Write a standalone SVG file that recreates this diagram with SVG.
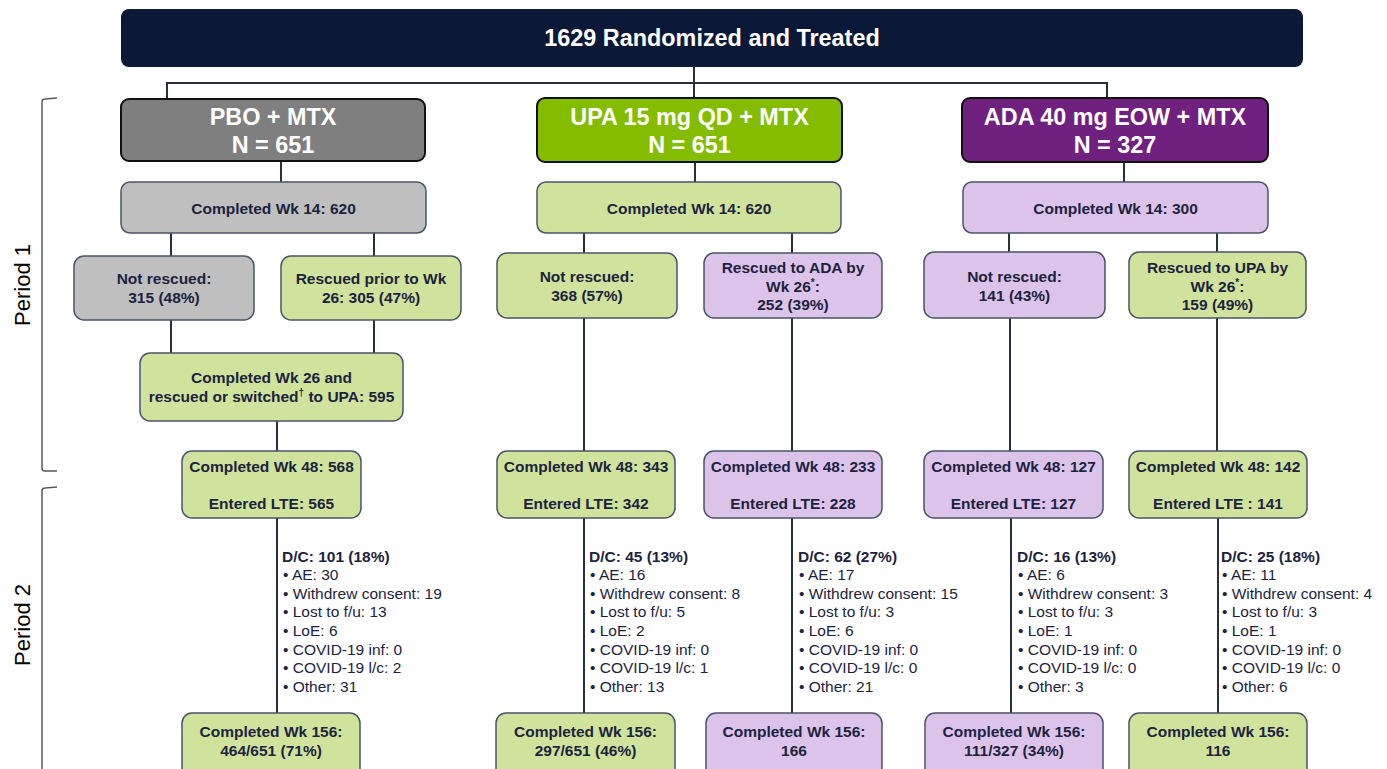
<svg xmlns="http://www.w3.org/2000/svg" width="1387" height="769" viewBox="0 0 1387 769">
<style>
text{font-family:"Liberation Sans",Arial,sans-serif;}
.hd{fill:#fff;font-weight:bold;font-size:23.4px;text-anchor:middle;}
.arm{fill:#fff;font-weight:bold;font-size:23.4px;text-anchor:middle;}
.t{fill:#1C2340;font-weight:bold;font-size:15.5px;text-anchor:middle;}
.dc{fill:#1C2340;font-size:15.5px;}
.dcb{fill:#1C2340;font-size:15.5px;font-weight:bold;}
.per{fill:#000;font-size:22px;text-anchor:middle;}
.gr{fill:#D0E39C;stroke:#4A5468;stroke-width:1.5;}
.lv{fill:#DCC3EA;stroke:#4A5468;stroke-width:1.5;}
.gy{fill:#BFBFBF;stroke:#4A5468;stroke-width:1.5;}
.ab{stroke:#111;stroke-width:2;}
.sup{font-size:10px;}
#connectors line{stroke:#2A2F3E;stroke-width:2;fill:none;}
.br{stroke:#595959;stroke-width:1.5;fill:none;}
</style>
<rect width="1387" height="769" fill="#fff"/>

<g id="brackets">
<path class="br" d="M57,98 L45,99 Q42,99 42,102 V468 Q42,471 45,471 L57,471"/>
<text class="per" transform="translate(30,285) rotate(-90)">Period 1</text>
<path class="br" d="M57,487 L45,488 Q42,488 42,491 V775"/>
<text class="per" transform="translate(30,625) rotate(-90)">Period 2</text>
</g>

<g id="connectors">
<line x1="694" y1="67" x2="694" y2="98"/>
<line x1="166" y1="83" x2="1108" y2="83"/>
<line x1="167" y1="83" x2="167" y2="99"/>
<line x1="1107" y1="83" x2="1107" y2="98"/>
<line x1="281" y1="161" x2="281" y2="182"/>
<line x1="695" y1="162" x2="695" y2="182"/>
<line x1="1124" y1="162" x2="1124" y2="182"/>
<line x1="171" y1="233" x2="171" y2="256"/>
<line x1="374" y1="233" x2="374" y2="256"/>
<line x1="584" y1="233" x2="584" y2="253"/>
<line x1="792" y1="233" x2="792" y2="253"/>
<line x1="1009" y1="233" x2="1009" y2="252"/>
<line x1="1217" y1="233" x2="1217" y2="252"/>
<line x1="171" y1="320" x2="171" y2="353"/>
<line x1="374" y1="320" x2="374" y2="353"/>
<line x1="277" y1="421" x2="277" y2="451"/>
<line x1="584" y1="318" x2="584" y2="451"/>
<line x1="792" y1="318" x2="792" y2="451"/>
<line x1="1010" y1="318" x2="1010" y2="451"/>
<line x1="1217" y1="318" x2="1217" y2="451"/>
<line x1="277" y1="518" x2="277" y2="713"/>
<line x1="584" y1="518" x2="584" y2="713"/>
<line x1="792" y1="518" x2="792" y2="713"/>
<line x1="1011" y1="518" x2="1011" y2="713"/>
<line x1="1218" y1="518" x2="1218" y2="713"/>
</g>

<g id="header">
<rect x="121" y="9" width="1182" height="58" rx="8" fill="#0B1838"/>
<text class="hd" x="712" y="46">1629 Randomized and Treated</text>
</g>

<g id="arm-pbo">
<rect class="ab" x="121" y="99" width="304" height="62" rx="8" fill="#7F7F7F"/>
<text class="arm" x="273" y="125">PBO + MTX</text>
<text class="arm" x="273" y="153">N = 651</text>
</g>
<g id="arm-upa">
<rect class="ab" x="537" y="98" width="305" height="64" rx="8" fill="#84BD00"/>
<text class="arm" x="689.5" y="124.5">UPA 15 mg QD + MTX</text>
<text class="arm" x="689.5" y="152.5">N = 651</text>
</g>
<g id="arm-ada">
<rect class="ab" x="962" y="98" width="306" height="64" rx="8" fill="#70207E"/>
<text class="arm" x="1115" y="124.5">ADA 40 mg EOW + MTX</text>
<text class="arm" x="1115" y="152.5">N = 327</text>
</g>

<g id="pbo-wk14">
<rect class="gy" x="121" y="182" width="305" height="51" rx="9"/>
<text class="t" x="273.5" y="213.5">Completed Wk 14: 620</text>
</g>
<g id="upa-wk14">
<rect class="gr" x="537" y="182" width="304" height="51" rx="9"/>
<text class="t" x="689" y="213.5">Completed Wk 14: 620</text>
</g>
<g id="ada-wk14">
<rect class="lv" x="963" y="182" width="305" height="51" rx="9"/>
<text class="t" x="1115.5" y="213.5">Completed Wk 14: 300</text>
</g>

<g id="pbo-notrescued">
<rect class="gy" x="74" y="256" width="180" height="64" rx="10"/>
<text class="t" x="164" y="284">Not rescued:</text>
<text class="t" x="164" y="303">315 (48%)</text>
</g>
<g id="pbo-rescued">
<rect class="gr" x="281" y="256" width="180" height="64" rx="10"/>
<text class="t" x="371" y="284">Rescued prior to Wk</text>
<text class="t" x="371" y="303">26: 305 (47%)</text>
</g>
<g id="upa-notrescued">
<rect class="gr" x="497" y="253" width="180" height="65" rx="10"/>
<text class="t" x="587" y="282">Not rescued:</text>
<text class="t" x="587" y="301">368 (57%)</text>
</g>
<g id="upa-rescued">
<rect class="lv" x="704" y="253" width="178" height="65" rx="10"/>
<text class="t" x="793" y="273">Rescued to ADA by</text>
<text class="t" x="793" y="292">Wk 26<tspan class="sup" dy="-6">*</tspan><tspan dy="6">:</tspan></text>
<text class="t" x="793" y="310">252 (39%)</text>
</g>
<g id="ada-notrescued">
<rect class="lv" x="924" y="252" width="181" height="66" rx="10"/>
<text class="t" x="1014.5" y="282">Not rescued:</text>
<text class="t" x="1014.5" y="301">141 (43%)</text>
</g>
<g id="ada-rescued">
<rect class="gr" x="1129" y="252" width="177" height="66" rx="10"/>
<text class="t" x="1217.5" y="273">Rescued to UPA by</text>
<text class="t" x="1217.5" y="292">Wk 26<tspan class="sup" dy="-6">*</tspan><tspan dy="6">:</tspan></text>
<text class="t" x="1217.5" y="310">159 (49%)</text>
</g>

<g id="pbo-wk26">
<rect class="gr" x="140" y="353" width="263" height="68" rx="10"/>
<text class="t" x="271.5" y="383">Completed Wk 26 and</text>
<text class="t" x="271.5" y="402">rescued or switched<tspan class="sup" dy="-6">†</tspan><tspan dy="6"> to UPA: 595</tspan></text>
</g>

<g id="pbo-wk48">
<rect class="gr" x="182" y="451" width="179" height="67" rx="10"/>
<text class="t" x="271.5" y="472">Completed Wk 48: 568</text>
<text class="t" x="271.5" y="509">Entered LTE: 565</text>
</g>
<g id="upa-wk48">
<rect class="gr" x="497" y="451" width="178" height="67" rx="10"/>
<text class="t" x="586" y="472">Completed Wk 48: 343</text>
<text class="t" x="586" y="509">Entered LTE: 342</text>
</g>
<g id="upa-ada-wk48">
<rect class="lv" x="704" y="451" width="178" height="67" rx="10"/>
<text class="t" x="793" y="472">Completed Wk 48: 233</text>
<text class="t" x="793" y="509">Entered LTE: 228</text>
</g>
<g id="ada-wk48">
<rect class="lv" x="924" y="451" width="179" height="67" rx="10"/>
<text class="t" x="1013.5" y="472">Completed Wk 48: 127</text>
<text class="t" x="1013.5" y="509">Entered LTE: 127</text>
</g>
<g id="ada-upa-wk48">
<rect class="gr" x="1129" y="451" width="178" height="67" rx="10"/>
<text class="t" x="1218" y="472">Completed Wk 48: 142</text>
<text class="t" x="1218" y="509">Entered LTE : 141</text>
</g>

<g id="pbo-dc">
<text class="dcb" x="282" y="562">D/C: 101 (18%)</text>
<text class="dc" x="283" y="580">• AE: 30</text>
<text class="dc" x="283" y="598.5">• Withdrew consent: 19</text>
<text class="dc" x="283" y="617">• Lost to f/u: 13</text>
<text class="dc" x="283" y="636">• LoE: 6</text>
<text class="dc" x="283" y="654.5">• COVID-19 inf: 0</text>
<text class="dc" x="283" y="673">• COVID-19 l/c: 2</text>
<text class="dc" x="283" y="692">• Other: 31</text>
</g>
<g id="upa-dc">
<text class="dcb" x="589" y="562">D/C: 45 (13%)</text>
<text class="dc" x="590" y="580">• AE: 16</text>
<text class="dc" x="590" y="598.5">• Withdrew consent: 8</text>
<text class="dc" x="590" y="617">• Lost to f/u: 5</text>
<text class="dc" x="590" y="636">• LoE: 2</text>
<text class="dc" x="590" y="654.5">• COVID-19 inf: 0</text>
<text class="dc" x="590" y="673">• COVID-19 l/c: 1</text>
<text class="dc" x="590" y="692">• Other: 13</text>
</g>
<g id="upa-ada-dc">
<text class="dcb" x="798" y="562">D/C: 62 (27%)</text>
<text class="dc" x="799" y="580">• AE: 17</text>
<text class="dc" x="799" y="598.5">• Withdrew consent: 15</text>
<text class="dc" x="799" y="617">• Lost to f/u: 3</text>
<text class="dc" x="799" y="636">• LoE: 6</text>
<text class="dc" x="799" y="654.5">• COVID-19 inf: 0</text>
<text class="dc" x="799" y="673">• COVID-19 l/c: 0</text>
<text class="dc" x="799" y="692">• Other: 21</text>
</g>
<g id="ada-dc">
<text class="dcb" x="1017" y="562">D/C: 16 (13%)</text>
<text class="dc" x="1018" y="580">• AE: 6</text>
<text class="dc" x="1018" y="598.5">• Withdrew consent: 3</text>
<text class="dc" x="1018" y="617">• Lost to f/u: 3</text>
<text class="dc" x="1018" y="636">• LoE: 1</text>
<text class="dc" x="1018" y="654.5">• COVID-19 inf: 0</text>
<text class="dc" x="1018" y="673">• COVID-19 l/c: 0</text>
<text class="dc" x="1018" y="692">• Other: 3</text>
</g>
<g id="ada-upa-dc">
<text class="dcb" x="1221" y="562">D/C: 25 (18%)</text>
<text class="dc" x="1222" y="580">• AE: 11</text>
<text class="dc" x="1222" y="598.5">• Withdrew consent: 4</text>
<text class="dc" x="1222" y="617">• Lost to f/u: 3</text>
<text class="dc" x="1222" y="636">• LoE: 1</text>
<text class="dc" x="1222" y="654.5">• COVID-19 inf: 0</text>
<text class="dc" x="1222" y="673">• COVID-19 l/c: 0</text>
<text class="dc" x="1222" y="692">• Other: 6</text>
</g>

<g id="pbo-wk156">
<rect class="gr" x="182" y="713" width="178" height="66" rx="10"/>
<text class="t" x="271" y="737">Completed Wk 156:</text>
<text class="t" x="271" y="756">464/651 (71%)</text>
</g>
<g id="upa-wk156">
<rect class="gr" x="496" y="713" width="179" height="66" rx="10"/>
<text class="t" x="585.5" y="737">Completed Wk 156:</text>
<text class="t" x="585.5" y="756">297/651 (46%)</text>
</g>
<g id="upa-ada-wk156">
<rect class="lv" x="706" y="713" width="176" height="66" rx="10"/>
<text class="t" x="794" y="737">Completed Wk 156:</text>
<text class="t" x="794" y="756">166</text>
</g>
<g id="ada-wk156">
<rect class="lv" x="925" y="713" width="178" height="66" rx="10"/>
<text class="t" x="1014" y="737">Completed Wk 156:</text>
<text class="t" x="1014" y="756">111/327 (34%)</text>
</g>
<g id="ada-upa-wk156">
<rect class="gr" x="1129" y="713" width="178" height="66" rx="10"/>
<text class="t" x="1218" y="737">Completed Wk 156:</text>
<text class="t" x="1218" y="756">116</text>
</g>
</svg>
